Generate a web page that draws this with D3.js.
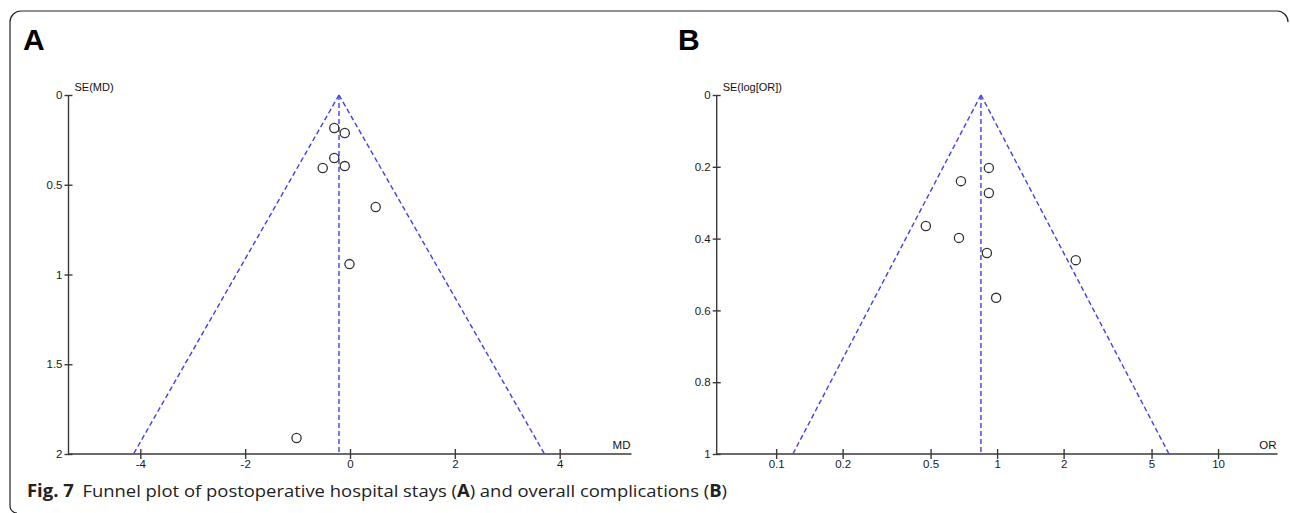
<!DOCTYPE html>
<html>
<head>
<meta charset="utf-8">
<script src="https://cdn.jsdelivr.net/npm/d3@7"></script>
<style>
  html, body { margin: 0; padding: 0; background: #fff; }
  svg { display: block; }
  .tick text { font-family: "Liberation Sans", Arial, sans-serif; font-size: 11.5px; fill: #1a1a1a; }
</style>
</head>
<body>
<svg id="fig" width="1290" height="513"></svg>
<script>
// Panel A: postoperative hospital stays (mean difference)
const mdValues = [-0.30, -0.10, -0.30, -0.52, -0.10, 0.49, -0.01, -1.02];
const mdSE = [0.184, 0.212, 0.351, 0.407, 0.396, 0.624, 0.942, 1.911];
const mdPooled = -0.21;
const mdXTicks = [-4, -2, 0, 2, 4];
const mdYTicks = [0, 0.5, 1, 1.5, 2];

// Panel B: overall complications (odds ratio)
const orValues = [0.918, 0.686, 0.918, 0.476, 0.672, 0.899, 2.27, 0.99];
const orSE = [0.203, 0.240, 0.273, 0.365, 0.398, 0.440, 0.460, 0.565];
const orPooled = 0.845;
const orXTicks = [0.1, 0.2, 0.5, 1, 2, 5, 10];
const orYTicks = [0, 0.2, 0.4, 0.6, 0.8, 1];

const svg = d3.select("#fig");
const blue = "#4040e8";
const axisColor = "#3a3a3a";
// plain hyphen for negative numbers
const fmt = d => String(+d.toFixed(2));

// figure frame with rounded corners
svg.append("path")
  .attr("d", "M 17,513 A 7,7 0 0 1 10,506 L 10,22 A 11,11 0 0 1 21,11 L 1277,11 A 11,11 0 0 1 1288,22")
  .attr("fill", "none").attr("stroke", "#222").attr("stroke-width", 1.2);

function funnel(opt) {
  const g = svg.append("g");
  const x = opt.x, y = opt.y;
  const [x0, x1] = x.range();
  const [yTop, yBot] = y.range();
  const seMax = y.domain()[1];

  // panel letter
  svg.append("text").attr("x", opt.letterX).attr("y", 50)
    .attr("font-family", "Liberation Sans, Arial, sans-serif")
    .attr("font-weight", "bold").attr("font-size", 30).attr("fill", "#000")
    .text(opt.letter);

  // y axis (ticks cross the line)
  const yAxis = d3.axisLeft(y).tickValues(opt.yTicks).tickSize(4).tickPadding(2).tickFormat(fmt);
  const ya = g.append("g").attr("transform", `translate(${x0},0)`).call(yAxis);
  ya.select(".domain").remove();
  ya.selectAll(".tick line").attr("x1", -4).attr("x2", 4);
  ya.append("line").attr("x1", 0).attr("x2", 0).attr("y1", yTop).attr("y2", yBot);
  ya.selectAll("line").attr("stroke", axisColor).attr("stroke-width", 1.4);

  // x axis
  const xAxis = d3.axisBottom(x).tickValues(opt.xTicks).tickSize(5).tickPadding(1).tickFormat(fmt);
  const xa = g.append("g").attr("transform", `translate(0,${yBot})`).call(xAxis);
  xa.select(".domain").remove();
  xa.selectAll(".tick line").attr("y1", -5).attr("y2", 5);
  xa.append("line").attr("x1", x0).attr("x2", x1).attr("y1", 0).attr("y2", 0);
  xa.selectAll("line").attr("stroke", axisColor).attr("stroke-width", 1.4);

  // axis titles
  g.append("text").attr("x", x0 + 6).attr("y", yTop - 4)
    .attr("font-family", "Liberation Sans, Arial, sans-serif").attr("font-size", 11).attr("fill", "#111")
    .text(opt.yTitle);
  g.append("text").attr("x", x1 - 1).attr("y", yBot - 5).attr("text-anchor", "end")
    .attr("font-family", "Liberation Sans, Arial, sans-serif").attr("font-size", 11.5).attr("fill", "#111")
    .text(opt.xTitle);

  // funnel: pooled estimate and 95% limits
  const lo = opt.limit(-1.96 * seMax), hi = opt.limit(1.96 * seMax);
  const lines = [
    [[opt.pooled, 0], [opt.pooled, seMax]],
    [[opt.pooled, 0], [lo, seMax]],
    [[opt.pooled, 0], [hi, seMax]]
  ];
  g.selectAll(".funnel").data(lines).join("line")
    .attr("x1", d => x(d[0][0])).attr("y1", d => y(d[0][1]))
    .attr("x2", d => x(d[1][0])).attr("y2", d => y(d[1][1]))
    .attr("stroke", blue).attr("stroke-width", 1.4).attr("stroke-dasharray", "5,3");

  // studies
  g.selectAll(".study").data(opt.values.map((v, i) => [v, opt.se[i]])).join("circle")
    .attr("cx", d => x(d[0])).attr("cy", d => y(d[1])).attr("r", 4.6)
    .attr("fill", "none").attr("stroke", "#333").attr("stroke-width", 1.3);
}

// A: mean difference
funnel({
  letter: "A", letterX: 23,
  x: d3.scaleLinear().domain([-5.37, 5.37]).range([68.5, 631.5]),
  y: d3.scaleLinear().domain([0, 2]).range([95, 454]),
  xTicks: mdXTicks, yTicks: mdYTicks,
  xTitle: "MD", yTitle: "SE(MD)",
  values: mdValues, se: mdSE, pooled: mdPooled,
  limit: d => mdPooled + d
});

// B: odds ratio on a log scale
funnel({
  letter: "B", letterX: 678,
  x: d3.scaleLog().domain([Math.pow(10, -1.269), Math.pow(10, 1.269)]).range([716.7, 1277.5]),
  y: d3.scaleLinear().domain([0, 1]).range([95, 454]),
  xTicks: orXTicks, yTicks: orYTicks,
  xTitle: "OR", yTitle: "SE(log[OR])",
  values: orValues, se: orSE, pooled: orPooled,
  limit: d => orPooled * Math.exp(d)
});

// caption
const cap = svg.append("text").attr("x", 27).attr("y", 497)
  .attr("font-family", "Open Sans, Noto Sans, sans-serif").attr("font-size", 17).attr("fill", "#222");
cap.append("tspan").attr("font-weight", "bold").text("Fig. 7");
cap.append("tspan").attr("dx", 8).text("Funnel plot of postoperative hospital stays (");
cap.append("tspan").attr("font-weight", "bold").text("A");
cap.append("tspan").text(") and overall complications (");
cap.append("tspan").attr("font-weight", "bold").text("B");
cap.append("tspan").text(")");
cap.attr("textLength", 700).attr("lengthAdjust", "spacingAndGlyphs");
</script>
</body>
</html>
